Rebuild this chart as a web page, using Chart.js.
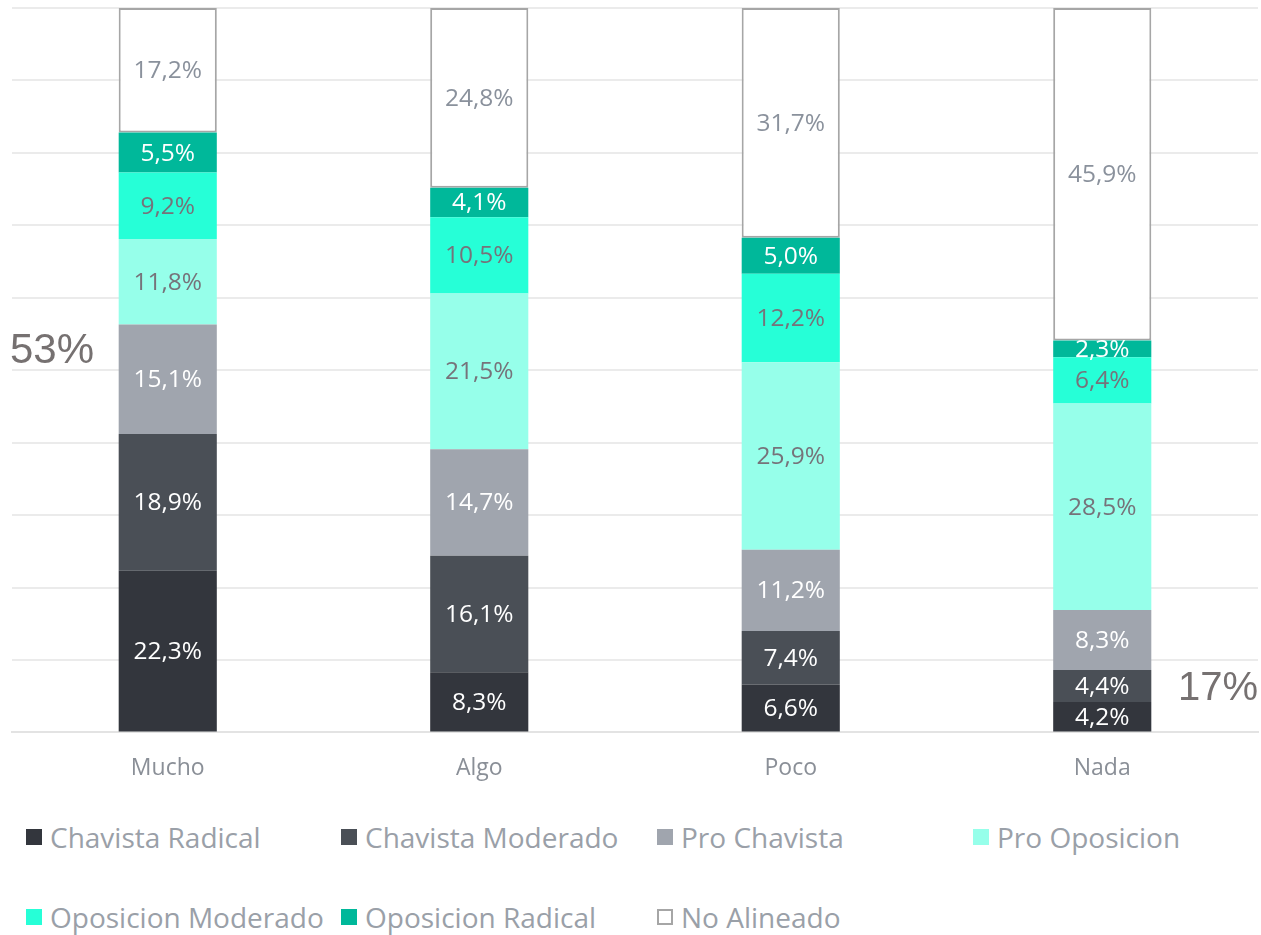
<!DOCTYPE html>
<html>
<head>
<meta charset="utf-8">
<script src="https://cdn.jsdelivr.net/npm/chart.js@4"></script>
<style>
  html, body { margin: 0; padding: 0; background: #fff; }
  body { width: 1261px; height: 935px; position: relative; overflow: hidden; font-family: 'Open Sans', sans-serif; }
  #wrap { position: absolute; left: 0; top: 0; width: 1261px; height: 816px; }
  .legend { position: absolute; left: 0; top: 0; width: 1261px; }
  .item { position: absolute; display: flex; align-items: center; color: #9aa0a8; font-size: 28px; white-space: nowrap; }
  .item .box { width: 16px; height: 16px; margin-right: 8px; box-sizing: border-box; }
</style>
</head>
<body>
<div id="wrap"><canvas id="chart"></canvas></div>
<div class="legend" id="legend"></div>
<script>
const categories = ['Mucho', 'Algo', 'Poco', 'Nada'];

const chavistaRadical = [22.3, 8.3, 6.6, 4.2];
const chavistaModerado = [18.9, 16.1, 7.4, 4.4];
const proChavista = [15.1, 14.7, 11.2, 8.3];
const proOposicion = [11.8, 21.5, 25.9, 28.5];
const oposicionModerado = [9.2, 10.5, 12.2, 6.4];
const oposicionRadical = [5.5, 4.1, 5.0, 2.3];
const noAlineado = [17.2, 24.8, 31.7, 45.9];

const labelDark = '#76737a';

const series = [
  { label: 'Chavista Radical', data: chavistaRadical, color: '#33363d', text: '#ffffff' },
  { label: 'Chavista Moderado', data: chavistaModerado, color: '#4a4f56', text: '#ffffff' },
  { label: 'Pro Chavista', data: proChavista, color: '#a0a5ae', text: '#ffffff' },
  { label: 'Pro Oposicion', data: proOposicion, color: '#96ffea', text: labelDark },
  { label: 'Oposicion Moderado', data: oposicionModerado, color: '#26ffd7', text: labelDark },
  { label: 'Oposicion Radical', data: oposicionRadical, color: '#00b89a', text: '#ffffff' },
  { label: 'No Alineado', data: noAlineado, color: '#ffffff', text: '#8a919c', border: '#a6a6a6' },
];

// value labels centered in each segment, decimal comma
const segmentLabels = {
  id: 'segmentLabels',
  afterDatasetsDraw(chart) {
    const ctx = chart.ctx;
    ctx.save();
    ctx.font = '24.5px "Open Sans"';
    ctx.textAlign = 'center';
    ctx.textBaseline = 'middle';
    chart.data.datasets.forEach((ds, i) => {
      chart.getDatasetMeta(i).data.forEach((bar, j) => {
        ctx.fillStyle = series[i].text;
        const y = (bar.y + bar.base) / 2;
        ctx.fillText(ds.data[j].toFixed(1).replace('.', ',') + '%', bar.x, y + 1);
      });
    });
    ctx.restore();
  },
};

// the two big side notes
const sideNotes = {
  id: 'sideNotes',
  afterDraw(chart) {
    const ctx = chart.ctx;
    const a = chart.chartArea;
    ctx.save();
    ctx.font = '42px "Liberation Sans"';
    ctx.fillStyle = '#767171';
    ctx.textBaseline = 'alphabetic';
    ctx.textAlign = 'left';
    ctx.fillText('53%', a.left - 2, 363);
    ctx.font = '40px "Liberation Sans"';
    ctx.textAlign = 'right';
    ctx.fillText('17%', a.right, 700);
    ctx.restore();
  },
};

new Chart(document.getElementById('chart'), {
  type: 'bar',
  data: {
    labels: categories,
    datasets: series.map((s) => ({
      label: s.label,
      data: s.data,
      backgroundColor: s.color,
      borderColor: s.border || s.color,
      borderWidth: s.border ? 2 : 0,
      borderSkipped: false,
      barPercentage: 0.315,
      categoryPercentage: 1,
    })),
  },
  options: {
    responsive: true,
    maintainAspectRatio: false,
    animation: false,
    layout: { padding: { left: 12, right: 3, top: 8, bottom: 12 } },
    plugins: { legend: { display: false }, tooltip: { enabled: false } },
    scales: {
      x: {
        stacked: true,
        grid: { display: false, drawTicks: false },
        border: { color: '#e3e3e3', width: 2 },
        ticks: { color: '#8a8f97', font: { family: 'Open Sans', size: 23 }, padding: 22 },
      },
      y: {
        stacked: true,
        min: 0,
        max: 100,
        grid: { color: '#ebebeb', lineWidth: 2, drawTicks: false },
        border: { display: false },
        ticks: { display: false, stepSize: 10 },
      },
    },
  },
  plugins: [segmentLabels, sideNotes],
});

// legend laid out in a 4-column grid like the original
const legendEl = document.getElementById('legend');
const colX = [26, 341, 657, 973];
const rowY = [838, 918];
series.forEach((s, i) => {
  const item = document.createElement('div');
  item.className = 'item';
  item.style.left = colX[i % 4] + 'px';
  item.style.top = (rowY[Math.floor(i / 4)] - 20) + 'px';
  const box = document.createElement('span');
  box.className = 'box';
  box.style.background = s.color;
  if (s.border) box.style.border = '2px solid ' + s.border;
  const txt = document.createElement('span');
  txt.textContent = s.label;
  item.appendChild(box);
  item.appendChild(txt);
  legendEl.appendChild(item);
});
</script>
</body>
</html>
